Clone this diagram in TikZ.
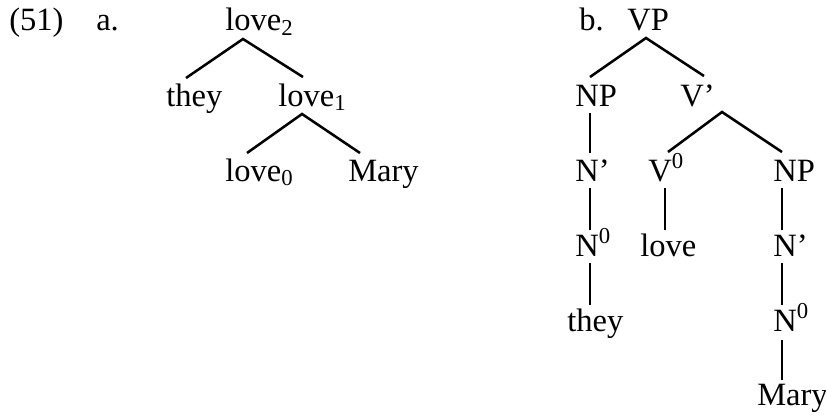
\documentclass[tikz,border=0pt]{standalone}
\usepackage{fontspec}
\setmainfont{Liberation Serif}
\usetikzlibrary{calc}
\begin{document}
\begin{tikzpicture}[x=0.75pt,y=-0.75pt,
  lbl/.style={inner sep=0pt,anchor=base west,font=\fontsize{24.4pt}{29pt}\selectfont},
  br/.style={line width=1.9pt}]
\useasboundingbox (0,0) rectangle (826,414);
% part a
\node[lbl] (n51) at (9,31) {(51)};
\node[lbl] (a) at (96,31) {a.};
\node[lbl] (love2) at (225,31) {love\textsubscript{2}};
\node[lbl] (they) at (166,106) {they};
\node[lbl] (love1) at (278,106) {love\textsubscript{1}};
\node[lbl] (love0) at (225,181) {love\textsubscript{0}};
\node[lbl] (mary) at (348,181) {Mary};
\draw[br] ($(they.base west)+(20,-28)$) -- ($(love2.base west)+(18,8)$) -- ($(love1.base west)+(25,-29)$);
\draw[br] ($(love0.base west)+(22,-28)$) -- ($(love1.base west)+(24,8)$) -- ($(mary.base west)+(12,-28)$);
% part b
\node[lbl] (b) at (579,31) {b.};
\node[lbl] (vp) at (627,31) {VP};
\node[lbl] (np1) at (575,106) {NP};
\node[lbl] (vbar) at (680,106) {V’};
\node[lbl] (nbar1) at (575,181) {N’};
\node[lbl] (v0) at (648,181) {V\textsuperscript{0}};
\node[lbl] (np2) at (773,181) {NP};
\node[lbl] (n01) at (575,256) {N\textsuperscript{0}};
\node[lbl] (love) at (640,256) {love};
\node[lbl] (nbar2) at (773,256) {N’};
\node[lbl] (they2) at (567,331) {they};
\node[lbl] (n02) at (773,331) {N\textsuperscript{0}};
\node[lbl] (mary2) at (757,405) {Mary};
\draw[br] ($(np1.base west)+(15,-29)$) -- ($(vp.base west)+(19,7)$) -- ($(vbar.base west)+(24,-30)$);
\draw[br] ($(np1.base west)+(15,7)$) -- ($(nbar1.base west)+(15,-28)$);
\draw[br] ($(v0.base west)+(20,-29)$) -- ($(vbar.base west)+(42,6)$) -- ($(np2.base west)+(9,-29)$);
\draw[br] ($(nbar1.base west)+(15,7)$) -- ($(n01.base west)+(15,-26)$);
\draw[br] ($(v0.base west)+(17,7)$) -- ($(love.base west)+(25,-26)$);
\draw[br] ($(np2.base west)+(9,7)$) -- ($(nbar2.base west)+(9,-26)$);
\draw[br] ($(n01.base west)+(15,7)$) -- ($(they2.base west)+(23,-26)$);
\draw[br] ($(nbar2.base west)+(9,7)$) -- ($(n02.base west)+(9,-26)$);
\draw[br] ($(n02.base west)+(9,9)$) -- ($(mary2.base west)+(25,-25)$);
\end{tikzpicture}
\end{document}
